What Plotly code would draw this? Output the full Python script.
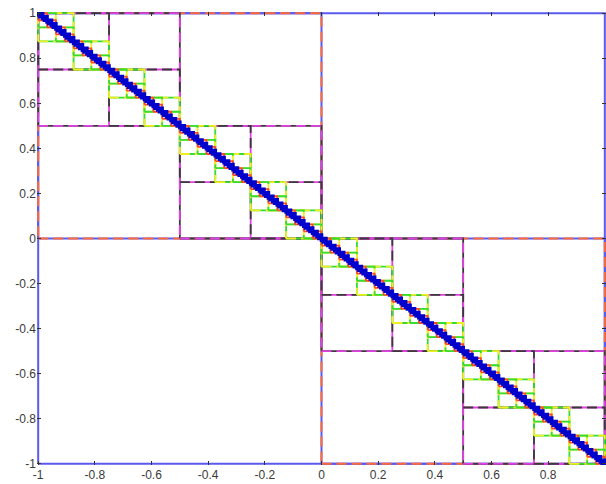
import plotly.graph_objects as go

# Hierarchical block levels drawn along the anti-diagonal of [-1,1]x[-1,1]
levels = [0, 1, 2, 3, 4, 5, 6, 7]
level_base_colors = ["#5a5aee", "#5a5aee", "#3a3a3a", "#e040e0", "#33dd33", "#eeee22", "#ff4a2a", "#0000cc"]
level_dash_colors = [None, "#ff6a3a", "#e040e0", "#3a3a3a", "#eeee22", "#33dd33", None, None]
level_widths = [2, 2, 1.8, 1.8, 1.8, 1.8, 1.8, 3.6]

x_tickvals = [-1, -0.8, -0.6, -0.4, -0.2, 0, 0.2, 0.4, 0.6, 0.8]
x_ticktext = ["-1", "-0.8", "-0.6", "-0.4", "-0.2", "0", "0.2", "0.4", "0.6", "0.8"]
y_tickvals = [-1, -0.8, -0.6, -0.4, -0.2, 0, 0.2, 0.4, 0.6, 0.8, 1]
y_ticktext = ["-1", "-0.8", "-0.6", "-0.4", "-0.2", "0", "0.2", "0.4", "0.6", "0.8", "1"]


def level_boxes(k):
    n = 2 ** k
    s = 2.0 / n
    xs, ys = [], []
    for i in range(n):
        x0, x1 = -1 + i * s, -1 + (i + 1) * s
        y1, y0 = 1 - i * s, 1 - (i + 1) * s
        xs += [x0, x1, x1, x0, x0, None]
        ys += [y0, y0, y1, y1, y0, None]
    return xs, ys


fig = go.Figure()
for k, base, dash, w in zip(levels, level_base_colors, level_dash_colors, level_widths):
    xs, ys = level_boxes(k)
    fig.add_trace(go.Scatter(x=xs, y=ys, mode="lines",
                             line=dict(color=base, width=w),
                             hoverinfo="skip", showlegend=False))
    if dash:
        fig.add_trace(go.Scatter(x=xs, y=ys, mode="lines",
                                 line=dict(color=dash, width=w, dash="10px,5px"),
                                 hoverinfo="skip", showlegend=False))

font = dict(family="Liberation Sans, Arial, sans-serif", size=12, color="#3a3a3a")
fig.update_layout(
    width=606, height=484,
    margin=dict(l=37, r=0, t=12, b=19),
    paper_bgcolor="white", plot_bgcolor="white",
    font=font, showlegend=False,
    xaxis=dict(range=[-1.0042, 1.0042], showgrid=False, zeroline=False,
               showline=False, mirror="ticks", ticks="inside", ticklen=4,
               tickcolor="#333333", tickwidth=1, ticklabelstandoff=1,
               tickvals=x_tickvals, ticktext=x_ticktext, automargin=False),
    yaxis=dict(range=[-1.0053, 1.0053], showgrid=False, zeroline=False,
               showline=False, mirror="ticks", ticks="inside", ticklen=4,
               tickcolor="#333333", tickwidth=1,
               tickvals=y_tickvals, ticktext=y_ticktext, automargin=False),
)

fig.write_html("out.html")
